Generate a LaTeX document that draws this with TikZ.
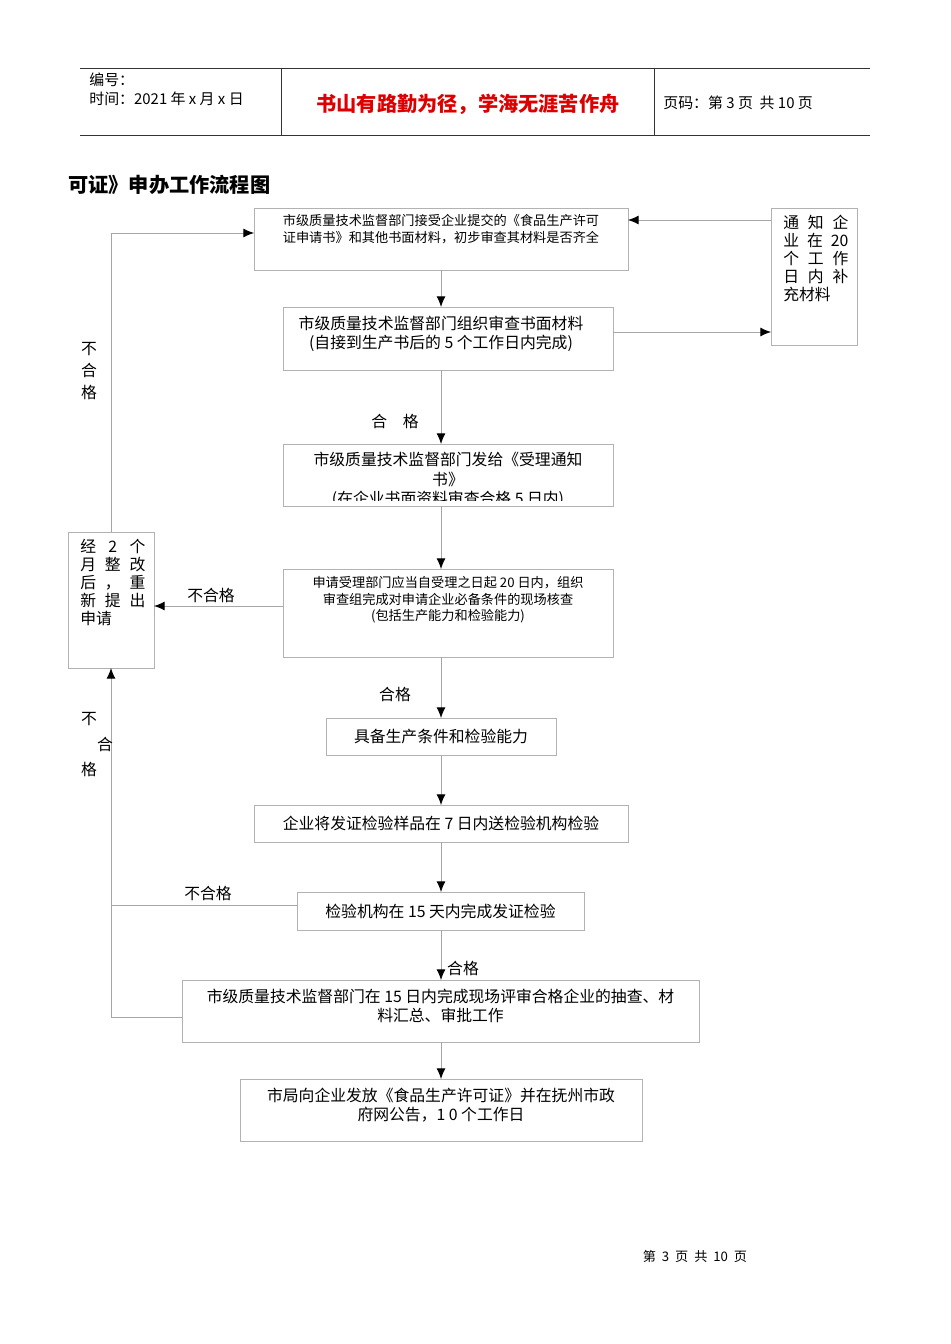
\documentclass[tikz,border=0pt]{standalone}
\usepackage{fontspec}
\setmainfont{Liberation Serif}
\newfontfamily\cjk{Noto Sans CJK SC}
\usetikzlibrary{arrows.meta}
\tikzset{
    box/.style={draw=gray!60, line width=0.5pt, inner sep=0pt, outer sep=0pt, align=center, font=\cjk\fontsize{9}{11}\selectfont},
    txt/.style={inner sep=0pt, font=\cjk\fontsize{9}{11}\selectfont},
    link/.style={draw=gray!70, line width=0.5pt, -{Latex[black,length=6pt,width=5pt]}},
    flat/.style={draw=gray!70, line width=0.5pt},
    rule/.style={draw=black!80, line width=0.4pt}
}
\begin{document}
\begin{tikzpicture}[x=0.02cm, y=-0.02cm]

	\useasboundingbox (0,0) rectangle (950,1344);

		% header
		\draw[rule] (80,68) -- (870,68);
		\draw[rule] (80,135) -- (870,135);
		\draw[rule] (281,68) -- (281,135);
		\draw[rule] (654,68) -- (654,135);
		\node[txt, anchor=west, font=\cjk\fontsize{8.5}{10}\selectfont] (num) at (89,80) {编号：};
		\node[txt, anchor=west, font=\cjk\fontsize{8.5}{10}\selectfont] (date) at (89,99) {时间：2021 年 x 月 x 日};
		\node[txt, font=\cjk\bfseries\fontsize{11.5}{13}\selectfont, text={rgb,255:red,220;green,0;blue,0}] (motto) at (468,104) {书山有路勤为径，学海无涯苦作舟};
		\node[txt, anchor=west, font=\cjk\fontsize{8.5}{10}\selectfont] (page) at (663,103) {页码：第 3 页\ \ 共 10 页};

		\node[txt, anchor=west, font=\cjk\bfseries\fontsize{11.5}{13}\selectfont] (title) at (68,185) {可证》申办工作流程图};

		% boxes
		\node[box, minimum width=7.48cm, minimum height=1.24cm] (accept) at (441,239) {};
		\node[txt, anchor=north, align=left, font=\cjk\fontsize{7.5}{9.5}\selectfont] at (441,214) {市级质量技术监督部门接受企业提交的《食品生产许可\\证申请书》和其他书面材料，初步审查其材料是否齐全};

		\node[box, minimum width=6.6cm, minimum height=1.26cm] (review) at (448,338.5) {};
		\node[txt, align=center] at (441,334) {市级质量技术监督部门组织审查书面材料\\(自接到生产书后的 5 个工作日内完成)};

		\node[box, minimum width=6.6cm, minimum height=1.24cm] (notice) at (448,475) {};
		\begin{scope}
			\clip (283,444) rectangle (613,500);
			\node[txt, align=center, anchor=north] at (448,452) {市级质量技术监督部门发给《受理通知\\书》\\(在企业书面资料审查合格 5 日内)};
		\end{scope}

		\node[box, minimum width=6.6cm, minimum height=1.76cm] (check) at (448,613) {};
		\node[txt, align=center, anchor=north, font=\cjk\fontsize{7.5}{9.5}\selectfont] at (448,576) {申请受理部门应当自受理之日起 20 日内，组织\\审查组完成对申请企业必备条件的现场核查\\(包括生产能力和检验能力)};

		\node[box, minimum width=4.6cm, minimum height=0.74cm] (ready) at (441,736.5) {具备生产条件和检验能力};
		\node[box, minimum width=7.48cm, minimum height=0.74cm] (sample) at (441,823.5) {企业将发证检验样品在 7 日内送检验机构检验};
		\node[box, minimum width=5.74cm, minimum height=0.76cm] (test) at (440.5,911) {检验机构在 15 天内完成发证检验};
		\node[box, minimum width=10.34cm, minimum height=1.24cm] (approve) at (440.5,1011) {};
		\node[txt, align=center] at (440.5,1006) {市级质量技术监督部门在 15 日内完成现场评审合格企业的抽查、材\\料汇总、审批工作};
		\node[box, minimum width=8.04cm, minimum height=1.24cm] (issue) at (441,1110) {};
		\node[txt, align=center] at (441,1105) {市局向企业发放《食品生产许可证》并在抚州市政\\府网公告，1 0 个工作日};

		\node[box, minimum width=1.72cm, minimum height=2.74cm] (supply) at (814,276.5) {};
		\node[txt, anchor=north west, align=left, font=\cjk\fontsize{9}{10.2}\selectfont] at (783,215) {\makebox[1.3cm][s]{通 知 企}\\\makebox[1.3cm][s]{业 在 20}\\\makebox[1.3cm][s]{个 工 作}\\\makebox[1.3cm][s]{日 内 补}\\充材料};

		\node[box, minimum width=1.72cm, minimum height=2.72cm] (redo) at (111,600) {};
		\node[txt, anchor=north west, align=left, font=\cjk\fontsize{9}{10.2}\selectfont] at (80,539) {\makebox[1.3cm][s]{经 2 个}\\\makebox[1.3cm][s]{月 整 改}\\\makebox[1.3cm][s]{后 ， 重}\\\makebox[1.3cm][s]{新 提 出}\\申请};

		% main flow
		\draw[link] (accept.south) -- (review.north -| accept.south);
		\draw[link] (review.south -| accept.south) -- (notice.north -| accept.south);
		\draw[link] (notice.south -| accept.south) -- (check.north -| accept.south);
		\draw[link] (check.south -| accept.south) -- (ready.north);
		\draw[link] (ready.south) -- (sample.north);
		\draw[link] (sample.south) -- (test.north -| sample.south);
		\draw[link] (test.south -| sample.south) -- (approve.north -| sample.south);
		\draw[link] (approve.south -| sample.south) -- (issue.north);

		\node[txt] (pass1) at (395,421) {合\quad 格};
		\node[txt] (pass2) at (395,694) {合格};
		\node[txt] (pass3) at (463,968) {合格};

		% side loops
		\draw[link] (review.east |- 0,332) -- (supply.west |- 0,332);
		\draw[link] (supply.west |- 0,220) -- (accept.east |- 0,220);
		\draw[link] (redo.north) -- (111,233) -- (accept.west |- 0,233);
		\draw[link] (check.west |- 0,606) -- (redo.east |- 0,606);
		\draw[flat] (test.west |- 0,905) -- (111,905);
		\draw[link] (approve.west |- 0,1017) -- (111,1017) -- (redo.south);

		\node[txt, align=center, font=\cjk\fontsize{9}{12.5}\selectfont] (fail1) at (89,371) {不\\合\\格};
		\node[txt] (fail2) at (211,595) {不合格};
		\node[txt] (fail3) at (89,719) {不};
		\node[txt] (fail4) at (105,744) {合};
		\node[txt] (fail5) at (89,769) {格};
		\node[txt] (fail6) at (208,893) {不合格};

		% footer
		\node[txt, font=\cjk\fontsize{7.5}{9}\selectfont] (foot) at (695,1256) {第\ \ 3\ \ 页\ \ 共\ \ 10\ \ 页};

\end{tikzpicture}
\end{document}
